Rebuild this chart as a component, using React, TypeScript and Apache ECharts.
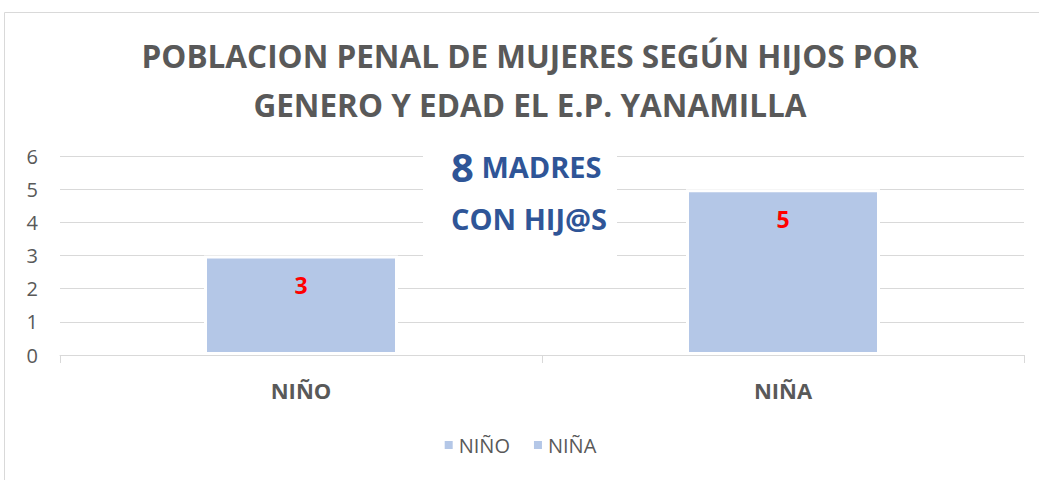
import React, { useEffect, useRef } from "react";
import * as echarts from "echarts";

const categories = ["NIÑO", "NIÑA"];
const seriesNames = ["NIÑO", "NIÑA"];
const ninoValues: (number | string)[] = [3, "-"];
const ninaValues: (number | string)[] = ["-", 5];
const yTicks = [0, 6, 1];
const titleLines = ["POBLACION PENAL DE MUJERES SEGÚN HIJOS POR", "GENERO Y EDAD EL E.P. YANAMILLA"];
const noteBig = "8";
const noteRest = "MADRES";
const noteLine2 = "CON HIJ@S";

const BAR = "#B4C7E7";
const GRAY = "#595959";
const FONT = "'Open Sans', 'Noto Sans', sans-serif";

export default function App() {
  const ref = useRef<HTMLDivElement>(null);
  useEffect(() => {
    if (!ref.current) return;
    const chart = echarts.init(ref.current, undefined, { renderer: "svg" });
    const barStyle = { color: BAR, borderColor: "#ffffff", borderWidth: 3 };
    const mkLabel = () => ({
      show: true,
      position: "insideTop",
      distance: 18,
      color: "#FF0000",
      fontWeight: "bold",
      fontSize: 23,
      fontFamily: FONT,
    });
    chart.setOption({
      animation: false,
      backgroundColor: "#ffffff",
      legend: {
        bottom: 20,
        left: "center",
        icon: "rect",
        itemWidth: 10,
        itemHeight: 10,
        itemGap: 22,
        data: seriesNames,
        textStyle: { color: GRAY, fontSize: 20, fontFamily: FONT },
      },
      grid: { left: 60, right: 15, top: 156, bottom: 125, containLabel: false },
      xAxis: {
        type: "category",
        data: categories,
        axisLine: { lineStyle: { color: "#D9D9D9", width: 1 } },
        axisTick: { show: true, length: 8, lineStyle: { color: "#D9D9D9" } },
        axisLabel: {
          color: GRAY,
          fontSize: 22,
          fontWeight: "bold",
          fontFamily: FONT,
          margin: 24,
        },
      },
      yAxis: {
        type: "value",
        min: yTicks[0],
        max: yTicks[1],
        interval: yTicks[2],
        axisLine: { show: false },
        axisTick: { show: false },
        splitLine: { lineStyle: { color: "#D9D9D9", width: 1 } },
        axisLabel: { color: GRAY, fontSize: 20, fontFamily: FONT, margin: 22 },
      },
      series: [
        {
          name: seriesNames[0],
          type: "bar",
          stack: "s",
          data: ninoValues,
          barWidth: 194,
          itemStyle: barStyle,
          label: mkLabel(),
        },
        {
          name: seriesNames[1],
          type: "bar",
          stack: "s",
          data: ninaValues,
          barWidth: 194,
          itemStyle: barStyle,
          label: mkLabel(),
        },
      ],
      graphic: [
        {
          type: "rect",
          shape: { x: 4.5, y: 12.5, width: 1100, height: 600 },
          style: { fill: "none", stroke: "#D9D9D9", lineWidth: 1 },
          silent: true,
          z: 100,
        },
        {
          type: "text",
          x: 530,
          y: 39,
          style: {
            text: titleLines[0],
            fontSize: 31.5,
            fontWeight: "bold",
            fill: GRAY,
            fontFamily: FONT,
            align: "center",
            verticalAlign: "top",
          },
        },
        {
          type: "text",
          x: 530,
          y: 88,
          style: {
            text: titleLines[1],
            fontSize: 31.5,
            fontWeight: "bold",
            fill: GRAY,
            fontFamily: FONT,
            align: "center",
            verticalAlign: "top",
          },
        },
        {
          type: "rect",
          shape: { x: 423, y: 142, width: 194, height: 120 },
          style: { fill: "#ffffff" },
          z: 50,
        },
        {
          type: "text",
          x: 451,
          y: 186,
          z: 51,
          style: {
            text: `{a|${noteBig}}{b| ${noteRest}}`,
            verticalAlign: "bottom",
            rich: {
              a: { fontSize: 40, fontWeight: "bold", fill: "#2F5597", fontFamily: FONT },
              b: { fontSize: 29, fontWeight: "bold", fill: "#2F5597", fontFamily: FONT },
            },
          },
        },
        {
          type: "text",
          x: 451,
          y: 233,
          z: 51,
          style: {
            text: noteLine2,
            fontSize: 29,
            fontWeight: "bold",
            fill: "#2F5597",
            fontFamily: FONT,
            verticalAlign: "bottom",
          },
        },
      ],
    });
    return () => chart.dispose();
  }, []);
  return (
    <div
      ref={ref}
      style={{ position: "absolute", left: 0, top: 0, width: 1039, height: 480 }}
    />
  );
}
